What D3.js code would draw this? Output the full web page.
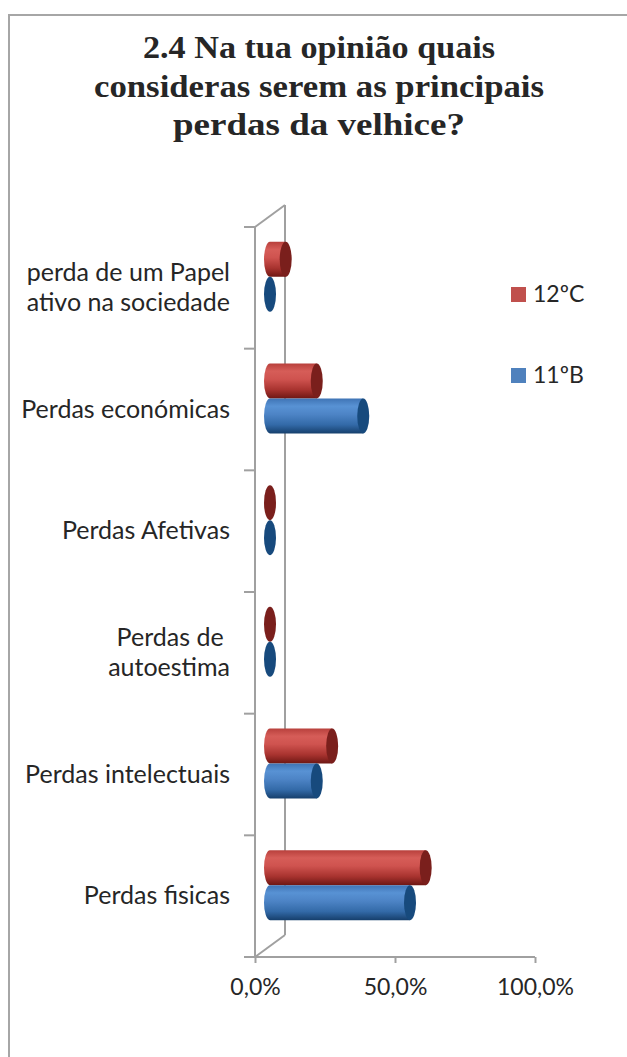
<!DOCTYPE html>
<html><head><meta charset="utf-8">
<script src="https://cdn.jsdelivr.net/npm/d3@7"></script>
<style>html,body{margin:0;padding:0;background:#fff;}svg{display:block;}</style>
</head><body>
<script>
// ---- data ----
const categories = [
  ["perda de um Papel", "ativo na sociedade"],
  ["Perdas económicas"],
  ["Perdas Afetivas"],
  ["Perdas de ", "autoestima"],
  ["Perdas intelectuais"],
  ["Perdas fisicas"]
];
const seriesNames = ["12ºC", "11ºB"];
const values12C = [0.056, 0.167, 0, 0, 0.222, 0.556];
const values11B = [0, 0.333, 0, 0, 0.167, 0.50];
const xTicks = [0, 0.5, 1];
const xTickLabels = ["0,0%", "50,0%", "100,0%"];
const titleLines = ["2.4 Na tua opinião quais", "consideras serem as principais", "perdas da velhice?"];

const W = 627, H = 1057;
const svg = d3.select("body").append("svg").attr("width", W).attr("height", H);
const labelFont = "Lato, 'Open Sans', sans-serif";

// chart border
svg.append("rect").attr("x", 9).attr("y", 15).attr("width", 700).attr("height", 1100)
  .attr("fill", "#fff").attr("stroke", "#a6a6a6").attr("stroke-width", 2);

// title
const title = svg.append("text").attr("text-anchor", "middle")
  .attr("font-family", "'Liberation Serif', 'DejaVu Serif', serif").attr("font-weight", "bold")
  .attr("font-size", 31).attr("fill", "#262626");
const titleW = [352, 450, 292];
titleLines.forEach((t, i) => {
  title.append("tspan").attr("x", 319).attr("y", 58 + i * 38.5).text(t)
    .attr("textLength", titleW[i]).attr("lengthAdjust", "spacingAndGlyphs");
});

// geometry
const depthX = 30, depthY = -22;
const x = d3.scaleLinear().domain([0, 1]).range([255, 535]);
const y = d3.scaleBand().domain(d3.range(categories.length)).range([227, 957]).padding(0);
const barH = 35;
const sub = d3.scaleBand().domain(seriesNames).range([0, barH * 2]);

const axisColor = "#a0a0a0";
const g = svg.append("g");

// back wall vertical line
g.append("line").attr("x1", x(0) + depthX).attr("x2", x(0) + depthX)
  .attr("y1", 227 + depthY).attr("y2", 957 + depthY).attr("stroke", axisColor).attr("stroke-width", 2);
// diagonals
[227, 957].forEach(yy => g.append("line").attr("x1", x(0)).attr("y1", yy)
  .attr("x2", x(0) + depthX).attr("y2", yy + depthY).attr("stroke", axisColor).attr("stroke-width", 2));

// front category axis
const yTickPos = d3.range(categories.length + 1).map(i => i < categories.length ? y(i) : y.range()[1]);
g.append("line").attr("x1", x(0)).attr("x2", x(0)).attr("y1", 227).attr("y2", 957)
  .attr("stroke", axisColor).attr("stroke-width", 2);
yTickPos.forEach(p => g.append("line").attr("x1", x(0) - 11).attr("x2", x(0)).attr("y1", p).attr("y2", p)
  .attr("stroke", axisColor).attr("stroke-width", 2));

// x axis
const xAxis = d3.axisBottom(x).tickValues(xTicks).tickFormat((d, i) => xTickLabels[i]).tickSize(6).tickPadding(16);
const xg = svg.append("g").attr("transform", `translate(0,957)`).call(xAxis);
xg.select(".domain").attr("stroke", axisColor).attr("stroke-width", 2).attr("d", `M${x(0)},0H${x(1)}`);
xg.selectAll(".tick line").attr("stroke", axisColor).attr("stroke-width", 2);
xg.selectAll(".tick text").attr("font-family", labelFont).attr("font-size", 23).attr("fill", "#262626");

// category labels
categories.forEach((lines, i) => {
  const cy = y(i) + y.bandwidth() / 2;
  const lh = 30;
  const t = svg.append("text").attr("text-anchor", "end").attr("font-family", labelFont)
    .attr("font-size", 25).attr("fill", "#262626");
  lines.forEach((l, j) => {
    t.append("tspan").attr("x", 230).attr("y", cy + 8 + (j - (lines.length - 1) / 2) * lh).text(l);
  });
});

// gradients
const defs = svg.append("defs");
const palettes = {
  "12ºC": {stops: ["#b8403c", "#d65d58", "#cf534f", "#a8332f", "#6e1714"], cap: "#7a1f1c", legend: "#c0504d"},
  "11ºB": {stops: ["#3f74b5", "#5892d4", "#4d84c6", "#336aa8", "#163f6c"], cap: "#174a7d", legend: "#4f81bd"}
};
seriesNames.forEach((s, k) => {
  const gr = defs.append("linearGradient").attr("id", "grad" + k).attr("x1", 0).attr("x2", 0).attr("y1", 0).attr("y2", 1);
  const offs = [0, 0.22, 0.45, 0.75, 1];
  palettes[s].stops.forEach((c, j) => gr.append("stop").attr("offset", offs[j]).attr("stop-color", c));
});

// cylinders
const rx = 6, ry = barH / 2;
const seriesVals = [values12C, values11B];
seriesNames.forEach((s, k) => {
  const vals = seriesVals[k];
  vals.forEach((v, i) => {
    const top = y(i) + y.bandwidth() / 2 + depthY / 2 - barH + sub(s);
    const bot = top + barH;
    const cy = top + ry;
    const x0 = x(0) + depthX / 2, x1 = x(v) + depthX / 2;
    if (x1 - x0 > 0.5) {
      svg.append("path")
        .attr("d", `M${x0},${top}L${x1},${top}L${x1},${bot}L${x0},${bot}A${rx},${ry} 0 0 1 ${x0},${top}Z`)
        .attr("fill", `url(#grad${k})`);
    }
    svg.append("ellipse").attr("cx", x1).attr("cy", cy).attr("rx", rx).attr("ry", ry)
      .attr("fill", palettes[s].cap);
  });
});

// legend
seriesNames.forEach((s, k) => {
  const ly = 287 + k * 81;
  svg.append("rect").attr("x", 511).attr("y", ly).attr("width", 15).attr("height", 15).attr("fill", palettes[s].legend);
  svg.append("text").attr("x", 533).attr("y", ly + 15).attr("font-family", labelFont).attr("font-size", 23)
    .attr("fill", "#262626").text(s);
});
</script>
</body></html>
